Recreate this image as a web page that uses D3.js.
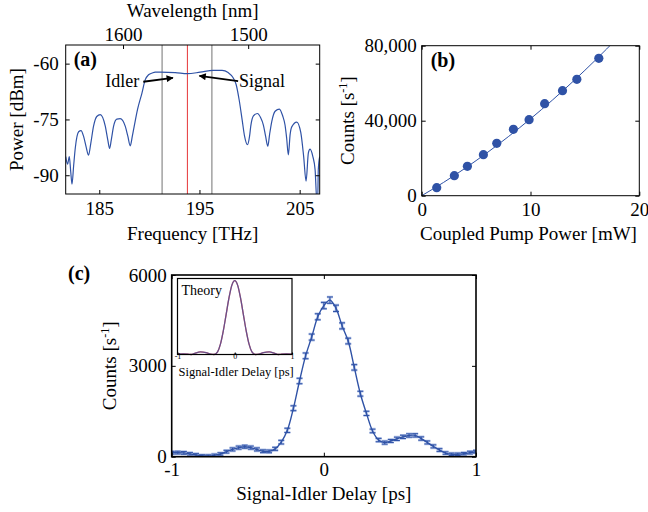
<!DOCTYPE html>
<html>
<head>
<meta charset="utf-8">
<script src="https://cdn.jsdelivr.net/npm/d3@7"></script>
<style>
  body { margin: 0; background: #fff; }
  svg { font-family: "Liberation Serif", "Times New Roman", serif; }
</style>
</head>
<body>
<svg id="fig" width="648" height="512"></svg>
<script>
// ---- (a) transmission spectrum ----
const specFreq = [181.65, 181.84, 182.01, 182.15, 182.28, 182.44, 182.61, 182.94, 183.18, 183.43, 183.70, 183.93,
  184.15, 184.43, 184.75, 185.10, 185.60, 185.85, 186.03, 186.20, 186.43, 186.75, 187.09, 187.59, 187.85, 188.09,
  188.30, 188.49, 188.82, 189.26, 189.59, 189.92, 190.30, 190.58, 191.08, 192.58, 193.77, 195.07, 196.37, 197.26,
  197.86, 198.36, 198.66, 198.96, 199.26, 199.50, 199.79, 200.00, 200.12, 200.40, 200.78, 201.10, 201.38, 201.60,
  201.82, 202.00, 202.22, 202.55, 202.98, 203.30, 203.54, 203.70, 203.87, 204.05, 204.21, 204.71, 205.11, 205.40,
  205.64, 205.87, 206.04, 206.31, 206.54, 206.72, 206.80, 206.86, 207.00];
const specPow = [-85.0, -87.0, -85.0, -89.0, -92.4, -87.5, -82.6, -78.3, -78.0, -79.5, -82.5, -84.6,
  -81.5, -76.8, -74.2, -73.7, -76.8, -80.5, -82.8, -80.5, -76.8, -74.9, -74.8, -76.8, -79.5, -82.1,
  -79.5, -76.8, -72.3, -67.9, -64.3, -63.0, -62.5, -62.3, -62.3, -62.4, -62.7, -62.3, -61.8, -61.8,
  -62.4, -63.8, -65.6, -69.7, -75.1, -79.5, -81.8, -79.5, -76.8, -74.0, -73.4, -74.5, -76.5, -79.5,
  -82.2, -79.0, -75.5, -72.8, -72.2, -74.0, -76.5, -80.0, -84.5, -79.0, -77.0, -75.7, -78.5, -85.0,
  -91.6, -84.0, -83.0, -84.9, -88.5, -97.0, -97.0, -88.5, -85.0];
const channelFreq = [191.27, 196.24];   // idler / signal filters
const pumpFreq = 193.8;
const freqTicks = [185, 195, 205];
const powTicks = [-60, -75, -90];
const waveTicks = [1600, 1500];

// ---- (b) pair rate vs pump power ----
const pumpPower = [1.38, 3.0, 4.2, 5.67, 6.9, 8.43, 9.87, 11.3, 12.94, 14.26, 16.28];
const pairCounts = [4270, 10670, 15680, 21870, 27950, 35400, 40530, 49070, 56000, 62080, 73280];
const fitPower = [0, 2, 4, 6, 8, 10, 12, 14, 16, 18];
const fitCounts = [0, 7050, 14680, 22880, 31650, 41000, 50920, 61420, 72490, 84140];
const powerTicks = [0, 10, 20];
const countTicksB = [0, 40000, 80000];

// ---- (c) delay scan ----
const delay = [-1.00, -0.96, -0.92, -0.88, -0.84, -0.80, -0.76, -0.72, -0.68, -0.64, -0.60, -0.56, -0.52,
  -0.48, -0.44, -0.40, -0.36, -0.32, -0.28, -0.24, -0.20, -0.16, -0.12, -0.08, -0.04, 0.00,
  0.04, 0.08, 0.12, 0.16, 0.20, 0.24, 0.28, 0.32, 0.36, 0.40, 0.44, 0.48, 0.52, 0.56, 0.60,
  0.64, 0.68, 0.72, 0.76, 0.80, 0.84, 0.88, 0.92, 0.96, 1.00];
const counts = [130, 135, 125, 95, 60, 30, 25, 45, 90, 165, 240, 300, 330,
  300, 240, 180, 175, 260, 480, 870, 1600, 2500, 3330, 3950, 4620, 4990,
  5170, 4900, 4320, 3820, 2950, 2080, 1430, 850, 550, 465, 520, 590, 655, 700, 705,
  600, 470, 340, 220, 120, 80, 80, 100, 135, 165];
const countErr = [45, 45, 45, 40, 40, 35, 35, 40, 40, 45, 50, 50, 50,
  50, 50, 45, 45, 50, 60, 70, 80, 90, 95, 100, 100, 105,
  105, 105, 100, 95, 90, 80, 70, 60, 55, 50, 50, 55, 55, 55, 55,
  55, 50, 50, 45, 40, 40, 40, 40, 45, 45];
const delayTicks = [-1, 0, 1];
const countTicksC = [0, 3000, 6000];

// inset: theory
const theoryDelay = [-1, -0.9, -0.8, -0.76, -0.7, -0.6, -0.5, -0.42, -0.36, -0.3, -0.25, -0.2, -0.15, -0.1, -0.05, 0,
  0.05, 0.1, 0.15, 0.2, 0.25, 0.3, 0.36, 0.42, 0.5, 0.6, 0.7, 0.76, 0.8, 0.9, 1];
const theoryVal = [0.005, 0.008, 0.003, 0, 0.015, 0.035, 0.025, 0.005, 0, 0.036, 0.14, 0.32, 0.545, 0.77, 0.94, 1,
  0.94, 0.77, 0.545, 0.32, 0.14, 0.036, 0, 0.005, 0.025, 0.035, 0.015, 0, 0.003, 0.008, 0.005];

const BLUE = "#2f52a6";
const RED = "#e8484a";
const svg = d3.select("#fig");

svg.append("defs").append("marker")
  .attr("id", "head").attr("viewBox", "0 0 10 10")
  .attr("refX", 9).attr("refY", 5)
  .attr("markerWidth", 9).attr("markerHeight", 7)
  .attr("markerUnits", "userSpaceOnUse")
  .attr("orient", "auto")
  .append("path").attr("d", "M0,0 L10,5 L0,10 z").attr("fill", "#000");

function panel(box, id) {
  const g = svg.append("g").attr("transform", `translate(${box.x},${box.y})`);
  g.append("clipPath").attr("id", id)
    .append("rect").attr("width", box.w).attr("height", box.h);
  return g;
}

function styleAxis(sel, fs) {
  sel.select(".domain").remove();
  sel.selectAll(".tick line").attr("stroke", "#000");
  sel.selectAll(".tick text").attr("fill", "#000").style("font-size", fs + "px");
  sel.attr("font-family", null);
}

function boxAxes(g, box, x, y, xt, yt, opt) {
  const fs = opt.fs || 19;
  const tl = opt.tick || 4;
  const xa = g.append("g").attr("transform", `translate(0,${box.h})`)
    .call(d3.axisBottom(x).tickValues(xt).tickSize(-tl).tickPadding(opt.xpad).tickFormat(opt.xfmt || (d => String(d))));
  styleAxis(xa, fs);
  const ya = g.append("g")
    .call(d3.axisLeft(y).tickValues(yt).tickSize(-tl).tickPadding(opt.ypad).tickFormat(opt.yfmt || (d => String(d))));
  styleAxis(ya, fs);
  const xt2 = g.append("g").call(d3.axisTop(x).tickValues(opt.topTicks || xt).tickSize(-tl).tickFormat(""));
  styleAxis(xt2, fs);
  const yt2 = g.append("g").attr("transform", `translate(${box.w},0)`)
    .call(d3.axisRight(y).tickValues(yt).tickSize(-tl).tickFormat(""));
  styleAxis(yt2, fs);
  g.append("rect").attr("width", box.w).attr("height", box.h)
    .attr("fill", "none").attr("stroke", "#000").attr("stroke-width", opt.sw || 1);
}

// ================= (a) =================
const A = { x: 65.7, y: 45, w: 254, h: 149 };
const ga = panel(A, "clipA");
const xA = d3.scaleLinear().domain([181.65, 207.0]).range([0, A.w]);
const yA = d3.scaleLinear().domain([-95.04, -54.99]).range([A.h, 0]);

ga.selectAll("line.chan").data(channelFreq).join("line").attr("class", "chan")
  .attr("x1", d => xA(d)).attr("x2", d => xA(d)).attr("y1", 0).attr("y2", A.h)
  .attr("stroke", "#8a8a8a").attr("stroke-width", 1.2);
ga.append("line")
  .attr("x1", xA(pumpFreq)).attr("x2", xA(pumpFreq)).attr("y1", 0).attr("y2", A.h)
  .attr("stroke", RED).attr("stroke-width", 1.1);

const spec = specFreq.map((f, i) => [f, specPow[i]]);
ga.append("path").datum(spec)
  .attr("clip-path", "url(#clipA)")
  .attr("fill", "none").attr("stroke", BLUE).attr("stroke-width", 1.2)
  .attr("d", d3.line().x(d => xA(d[0])).y(d => yA(d[1])).curve(d3.curveMonotoneX));

// wavelength axis on top (c / lambda)
const waveAxis = ga.append("g")
  .call(d3.axisTop(xA).tickValues(waveTicks.map(l => 299792.458 / l)).tickSize(-4).tickPadding(4)
    .tickFormat((d, i) => String(waveTicks[i])));
styleAxis(waveAxis, 19);
boxAxes(ga, A, xA, yA, freqTicks, powTicks, { xpad: 8, ypad: 7, topTicks: [] });

// arrows
ga.append("line").attr("x1", xA(189.39)).attr("y1", yA(-64.87)).attr("x2", xA(192.35)).attr("y2", yA(-63.8))
  .attr("stroke", "#000").attr("stroke-width", 1.8).attr("marker-end", "url(#head)");
ga.append("line").attr("x1", xA(198.86)).attr("y1", yA(-64.7)).attr("x2", xA(195.0)).attr("y2", yA(-63.3))
  .attr("stroke", "#000").attr("stroke-width", 1.8).attr("marker-end", "url(#head)");
ga.append("text").attr("x", xA(189.0)).attr("y", yA(-66.3)).attr("text-anchor", "end")
  .style("font-size", "18px").text("Idler");
ga.append("text").attr("x", xA(198.95)).attr("y", yA(-66.3))
  .style("font-size", "18px").text("Signal");
ga.append("text").attr("x", 8).attr("y", 21).style("font-size", "20px").style("font-weight", "bold").text("(a)");

svg.append("text").attr("x", A.x + A.w / 2).attr("y", 17).attr("text-anchor", "middle")
  .style("font-size", "19px").text("Wavelength [nm]");
svg.append("text").attr("x", A.x + A.w / 2).attr("y", 240).attr("text-anchor", "middle")
  .style("font-size", "19px").text("Frequency [THz]");
svg.append("text").attr("transform", `translate(23,${A.y + A.h / 2}) rotate(-90)`).attr("text-anchor", "middle")
  .style("font-size", "19px").text("Power [dBm]");

// ================= (b) =================
const B = { x: 421.7, y: 45.7, w: 217.6, h: 150 };
const gb = panel(B, "clipB");
const xB = d3.scaleLinear().domain([0, 20]).range([0, B.w]);
const yB = d3.scaleLinear().domain([0, 80000]).range([B.h, 0]);

gb.append("path").datum(fitPower.map((p, i) => [p, fitCounts[i]]))
  .attr("clip-path", "url(#clipB)")
  .attr("fill", "none").attr("stroke", BLUE).attr("stroke-width", 1)
  .attr("d", d3.line().x(d => xB(d[0])).y(d => yB(d[1])).curve(d3.curveMonotoneX));
gb.selectAll("circle").data(pumpPower).join("circle")
  .attr("cx", d => xB(d)).attr("cy", (d, i) => yB(pairCounts[i])).attr("r", 4.6)
  .attr("fill", BLUE);
boxAxes(gb, B, xB, yB, powerTicks, countTicksB, { xpad: 7, ypad: 5, yfmt: d3.format(",") });
gb.append("text").attr("x", 9).attr("y", 21).style("font-size", "20px").style("font-weight", "bold").text("(b)");

svg.append("text").attr("x", B.x + B.w / 2 - 2).attr("y", 240).attr("text-anchor", "middle")
  .style("font-size", "19px").text("Coupled Pump Power [mW]");
const ylb = svg.append("text").attr("transform", `translate(354,${B.y + B.h / 2}) rotate(-90)`)
  .attr("text-anchor", "middle").style("font-size", "19px");
ylb.append("tspan").text("Counts [s");
ylb.append("tspan").attr("dy", -7).style("font-size", "12px").text("-1");
ylb.append("tspan").attr("dy", 7).text("]");

// ================= (c) =================
const C = { x: 171.7, y: 275, w: 304.3, h: 181.7 };
const gc = panel(C, "clipC");
const xC = d3.scaleLinear().domain([-1, 1]).range([0, C.w]);
const yC = d3.scaleLinear().domain([0, 6000]).range([C.h, 0]);

const bars = gc.append("g").attr("clip-path", "url(#clipC)");
const pts = delay.map((t, i) => ({ t, c: counts[i], e: countErr[i] }));
// soft halo + bar
[["#b3c3e8", 2.6], [BLUE, 1]].forEach(([col, w]) => {
  const eb = bars.append("g").attr("stroke", col).attr("stroke-width", w);
  eb.selectAll("line.v").data(pts).join("line").attr("class", "v")
    .attr("x1", d => xC(d.t)).attr("x2", d => xC(d.t))
    .attr("y1", d => yC(d.c - d.e)).attr("y2", d => yC(d.c + d.e));
  eb.selectAll("line.lo").data(pts).join("line").attr("class", "lo")
    .attr("x1", d => xC(d.t) - 3).attr("x2", d => xC(d.t) + 3)
    .attr("y1", d => yC(d.c - d.e)).attr("y2", d => yC(d.c - d.e));
  eb.selectAll("line.hi").data(pts).join("line").attr("class", "hi")
    .attr("x1", d => xC(d.t) - 3).attr("x2", d => xC(d.t) + 3)
    .attr("y1", d => yC(d.c + d.e)).attr("y2", d => yC(d.c + d.e));
});
bars.append("path").datum(pts)
  .attr("fill", "none").attr("stroke", BLUE).attr("stroke-width", 1.4)
  .attr("d", d3.line().x(d => xC(d.t)).y(d => yC(d.c)).curve(d3.curveCatmullRom));
boxAxes(gc, C, xC, yC, delayTicks, countTicksC, { xpad: 6, ypad: 5, sw: 1.6, tick: 4 });

svg.append("text").attr("x", 68).attr("y", 280).style("font-size", "20px").style("font-weight", "bold").text("(c)");
svg.append("text").attr("x", C.x + C.w / 2).attr("y", 500).attr("text-anchor", "middle")
  .style("font-size", "19px").text("Signal-Idler Delay [ps]");
const ylc = svg.append("text").attr("transform", `translate(116,${C.y + C.h / 2}) rotate(-90)`)
  .attr("text-anchor", "middle").style("font-size", "19px");
ylc.append("tspan").text("Counts [s");
ylc.append("tspan").attr("dy", -7).style("font-size", "12px").text("-1");
ylc.append("tspan").attr("dy", 7).text("]");

// ---- inset ----
const I = { x: 177.5, y: 278.5, w: 114.5, h: 76 };
svg.append("rect").attr("x", I.x - 1).attr("y", I.y - 1).attr("width", I.w + 2).attr("height", I.h + 24).attr("fill", "#fff");
const gi = panel(I, "clipI");
const xI = d3.scaleLinear().domain([-1, 1]).range([0, I.w]);
const yI = d3.scaleLinear().domain([0, 1.03]).range([I.h, 0]);
const theory = theoryDelay.map((t, i) => [t, theoryVal[i]]);
const tl = d3.line().x(d => xI(d[0])).y(d => yI(d[1])).curve(d3.curveMonotoneX);
gi.append("path").datum(theory).attr("fill", "none").attr("stroke", RED).attr("stroke-width", 1.3).attr("d", tl);
gi.append("path").datum(theory).attr("fill", "none").attr("stroke", BLUE).attr("stroke-width", 1.3)
  .attr("stroke-opacity", 0.7).attr("d", tl);
const ia = gi.append("g").attr("transform", `translate(0,${I.h})`)
  .call(d3.axisBottom(xI).tickValues([-1, 0, 1]).tickSize(-2).tickPadding(0).tickFormat(d => String(d)));
styleAxis(ia, 8);
ia.selectAll(".tick text").attr("dy", "0.6em");
gi.append("rect").attr("width", I.w).attr("height", I.h).attr("fill", "none").attr("stroke", "#000").attr("stroke-width", 1.2);
gi.append("text").attr("x", 4).attr("y", 16).style("font-size", "14px").text("Theory");
gi.append("text").attr("x", 1).attr("y", I.h + 21).style("font-size", "12.5px").text("Signal-Idler Delay [ps]");
</script>
</body>
</html>
